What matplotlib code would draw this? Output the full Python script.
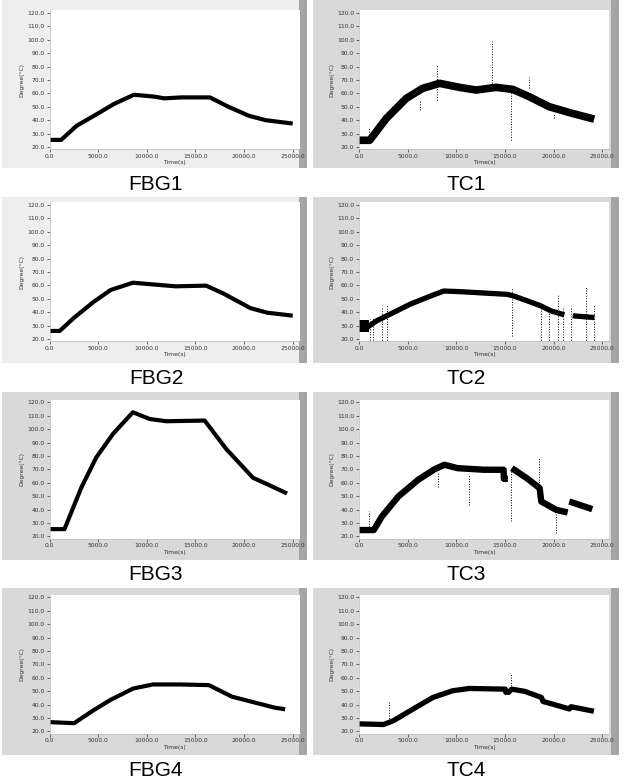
import matplotlib.pyplot as plt
from matplotlib.patches import Rectangle

W, H = 624, 783
nan = float('nan')

# temperature records (time in s, degree in C)
fbg1_t = [0, 1200, 2780, 4860, 6600, 8680, 10760, 11800, 13540, 16490, 18400, 20490, 22220, 25000]
fbg1_y = [25.3, 25.3, 35.8, 44.5, 52, 59, 57.6, 56.3, 57, 57, 50, 43.3, 40, 37.5]

fbg2_t = [0, 1050, 2450, 4550, 6300, 8580, 10500, 12950, 16100, 17860, 20660, 22400, 25000]
fbg2_y = [26, 26, 35.4, 47.8, 56.6, 62, 60.8, 59.3, 59.8, 54, 43, 39.6, 37.4]

fbg3_t = [0, 1540, 3260, 4800, 6520, 8570, 10290, 12000, 15950, 18180, 20920, 22290, 24420]
fbg3_y = [25.5, 25.5, 56.3, 78.9, 96.5, 112.7, 107.7, 106, 106.5, 85.2, 63.8, 59.3, 52.1]

fbg4_t = [0, 2530, 4560, 6250, 8610, 10640, 13350, 16390, 18750, 20780, 23140, 24220]
fbg4_y = [27, 26.2, 36, 43.5, 52.1, 55.1, 55.1, 54.6, 46, 42.2, 37.8, 36.6]

tc1_t = [0, 1100, 2810, 4860, 6560, 8280, 10330, 12040, 14100, 15800, 17510, 19570, 21960, 24180]
tc1_y = [25, 25, 41.3, 56.3, 63.8, 67.5, 64.5, 62.5, 64.5, 63, 57.5, 50, 45, 40.8]

tc2_t = [0, 900, 1830, 3200, 5270, 7330, 8710, 10430, 12840, 15260, 15940, 17320, 18700, 19730, 21110, nan, 21970, 24200]
tc2_y = [29, 29, 33.6, 38.5, 46, 52, 55.8, 55.3, 54.3, 53.3, 52, 48.4, 44.7, 41, 38, nan, 37.3, 36]

tc3_t = [0, 1520, 2360, 4050, 6080, 7770, 8780, 10130, 12840, 14860, 14900, 15300, nan,
         15710, 17230, 18570, 18740, 20270, 21450, nan, 21620, 23980]
tc3_y = [24.8, 24.8, 35, 49.9, 62.3, 70.2, 73.5, 71, 69.8, 69.8, 63, 63, nan,
         71, 63.6, 56.1, 46.1, 39.9, 37.9, nan, 46.1, 40.4]

tc4_t = [0, 2530, 3550, 5570, 7600, 9630, 11320, 15030, 15100, 15370, 15710, 17060, 18750, 18920,
         20440, 21620, 21790, 24150]
tc4_y = [25.7, 25.2, 28.1, 36.8, 45.4, 50.4, 52.1, 51.6, 49.2, 49.2, 51.6, 49.9, 45.4, 42.4,
         39.3, 36.8, 38.5, 35.1]

# single-sample glitches in the thermocouple records: time, low, high
tc1_spk_t = [1000, 6230, 8040, 13680, 15630, 17510, 20080]
tc1_spk_lo = [31.3, 47.5, 55, 67.5, 25, 64, 41.3]
tc1_spk_hi = [35, 55, 81.3, 98.8, 64.5, 72.5, 45]

tc2_spk_t = [1140, 1410, 2340, 2860, 15700, 18700, 19560, 20420, 20940, 21800, 23350, 24140]
tc2_spk_lo = [19, 19, 19, 19, 22.4, 19, 19, 19, 19, 19, 19, 19]
tc2_spk_hi = [35, 36, 44, 45, 58.3, 44.7, 43, 53.3, 43, 44, 59.5, 45]
tc2_blk_t = [0, 1000]
tc2_blk_lo = [25, 25]
tc2_blk_hi = [34, 34]

tc3_spk_t = [1010, 8100, 11310, 15640, 18510, 20270]
tc3_spk_lo = [23.7, 57.3, 43.7, 31.2, 52.4, 22.5]
tc3_spk_hi = [38.7, 67.3, 66, 71, 78.5, 37.5]

tc4_spk_t = [3040, 15640]
tc4_spk_lo = [28.1, 50.4]
tc4_spk_hi = [43, 64]

y_ticks = [20, 30, 40, 50, 60, 70, 80, 90, 100, 110, 120]
x_ticks = [0, 5000, 10000, 15000, 20000, 25000]
captions = ['FBG1', 'TC1', 'FBG2', 'TC2', 'FBG3', 'TC3', 'FBG4', 'TC4']

row_tops = [0.5, 192.5, 390, 585]
col_x0 = [49.5, 359]
panel_rows = [(0, 168), (197, 363), (392, 560), (588, 755)]
panel_cols = [(2, 307), (313, 619)]
caption_y = [184, 379, 575, 770]
caption_x = [156, 466]


def fig_rect(x0, y0, x1, y1):
    return [x0 / W, 1 - y1 / H, (x1 - x0) / W, (y1 - y0) / H]


fig = plt.figure(figsize=(W / 100, H / 100), dpi=100)
fig.patch.set_facecolor('white')

series = [
    (fbg1_t, fbg1_y, 3.0, None), (tc1_t, tc1_y, 5.5, (tc1_spk_t, tc1_spk_lo, tc1_spk_hi)),
    (fbg2_t, fbg2_y, 3.0, None), (tc2_t, tc2_y, 3.8, (tc2_spk_t, tc2_spk_lo, tc2_spk_hi)),
    (fbg3_t, fbg3_y, 3.0, None), (tc3_t, tc3_y, 4.6, (tc3_spk_t, tc3_spk_lo, tc3_spk_hi)),
    (fbg4_t, fbg4_y, 3.0, None), (tc4_t, tc4_y, 3.8, (tc4_spk_t, tc4_spk_lo, tc4_spk_hi)),
]

for i, (t, y, lw, spikes) in enumerate(series):
    r, c = divmod(i, 2)
    px0, px1 = panel_cols[c]
    py0, py1 = panel_rows[r]
    bg = '#eeeeee' if (c == 0 and r < 2) else '#d9d9d9'
    fig.add_artist(Rectangle((px0 / W, 1 - py1 / H), (px1 - px0) / W, (py1 - py0) / H,
                             transform=fig.transFigure, facecolor=bg, edgecolor='none', zorder=0))
    fig.add_artist(Rectangle(((px1 - 8) / W, 1 - py1 / H), 8 / W, (py1 - py0) / H,
                             transform=fig.transFigure, facecolor='#a5a5a5', edgecolor='none', zorder=0))

    top = row_tops[r] + 9.8
    left = col_x0[c]
    ax = fig.add_axes(fig_rect(left, top, left + 250, top + 138.7))
    ax.set_facecolor('white')
    ax.set_xlim(0, 25700)
    ax.set_ylim(18.5, 122)
    ax.plot(t, y, color='black', lw=lw, solid_capstyle='butt', solid_joinstyle='round')
    if spikes is not None:
        ax.vlines(spikes[0], spikes[1], spikes[2], color='black', lw=0.7, linestyles=':')
    if i == 3:
        ax.fill_between(tc2_blk_t, tc2_blk_lo, tc2_blk_hi, color='black', lw=0)

    ax.set_yticks(y_ticks)
    ax.set_yticklabels([f'{v:.1f}' for v in y_ticks])
    ax.set_xticks(x_ticks)
    ax.set_xticklabels([f'{v:.1f}' for v in x_ticks])
    ax.tick_params(labelsize=4.3, colors='#333333', length=2, width=0.5, pad=1.5)
    for s in ['top', 'right']:
        ax.spines[s].set_visible(False)
    for s in ['left', 'bottom']:
        ax.spines[s].set_color('#bbbbbb')
        ax.spines[s].set_linewidth(0.5)
    ax.set_ylabel('Degree(°C)', fontsize=4.3, color='#333333', labelpad=2)
    ax.set_xlabel('Time(s)', fontsize=4.3, color='#333333', labelpad=1)

    fig.text(caption_x[c] / W, 1 - caption_y[r] / H, captions[i], fontsize=15,
             family='Liberation Sans', ha='center', va='center', color='black')

fig.savefig('out.png', dpi=100)
